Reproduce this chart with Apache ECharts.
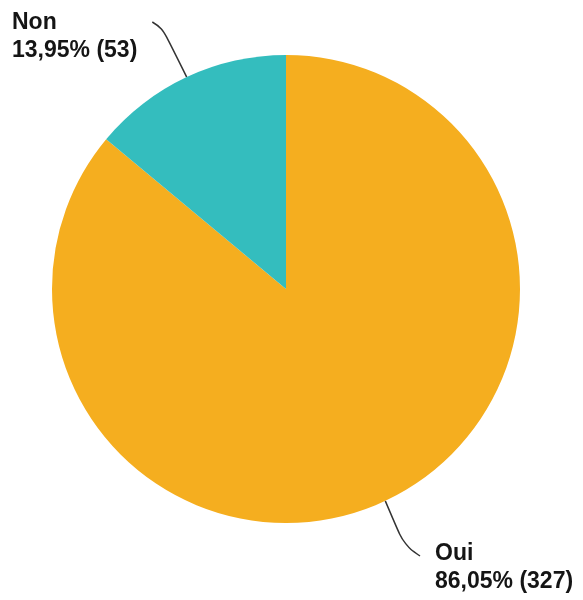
<!DOCTYPE html>
<html><head><meta charset="utf-8">
<script src="https://cdn.jsdelivr.net/npm/echarts@6/dist/echarts.min.js"></script>
<style>html,body{margin:0;padding:0;background:#fff}#c{width:583px;height:600px}</style>
</head><body><div id="c"></div>
<script>
var categories = ['Oui', 'Non'];
var counts = [327, 53];
var colors = ['#F5AE1F', '#34BDBE'];

var chart = echarts.init(document.getElementById('c'));
var labelPos = [
  {x: 435, y: 540},
  {x: 12, y: 9}
];
chart.setOption({
  animation: false,
  series: [{
    type: 'pie',
    center: [286, 289],
    radius: [0, 234],
    startAngle: 90,
    clockwise: true,
    data: categories.map(function (c, i) {
      return {name: c, value: counts[i], itemStyle: {color: colors[i]}};
    }),
    label: {
      show: true,
      position: 'outside',
      fontFamily: 'Liberation Sans, Arial, sans-serif',
      fontWeight: 'bold',
      fontSize: 23,
      lineHeight: 28,
      color: '#151515',
      formatter: function (p) {
        return p.name + '\n' + p.percent.toFixed(2).replace('.', ',') + '% (' + p.value + ')';
      }
    },
    labelLine: {
      show: true,
      smooth: 0.4,
      lineStyle: {color: '#333', width: 1.5}
    },
    labelLayout: function (p) {
      var pos = labelPos[p.dataIndex];
      var w = p.labelRect.width;
      var start = p.labelLinePoints[0];
      var pts;
      if (p.dataIndex === 1) {
        var e = [pos.x + w + 15, pos.y + 13];
        pts = [start, [e[0] + 10, e[1] + 6], e];
      } else {
        var e2 = [pos.x - 15, pos.y + 16];
        pts = [start, [e2[0] - 16, e2[1] - 11], e2];
      }
      return {x: pos.x, y: pos.y, align: 'left', verticalAlign: 'top', labelLinePoints: pts};
    }
  }]
});
</script>
</body></html>
